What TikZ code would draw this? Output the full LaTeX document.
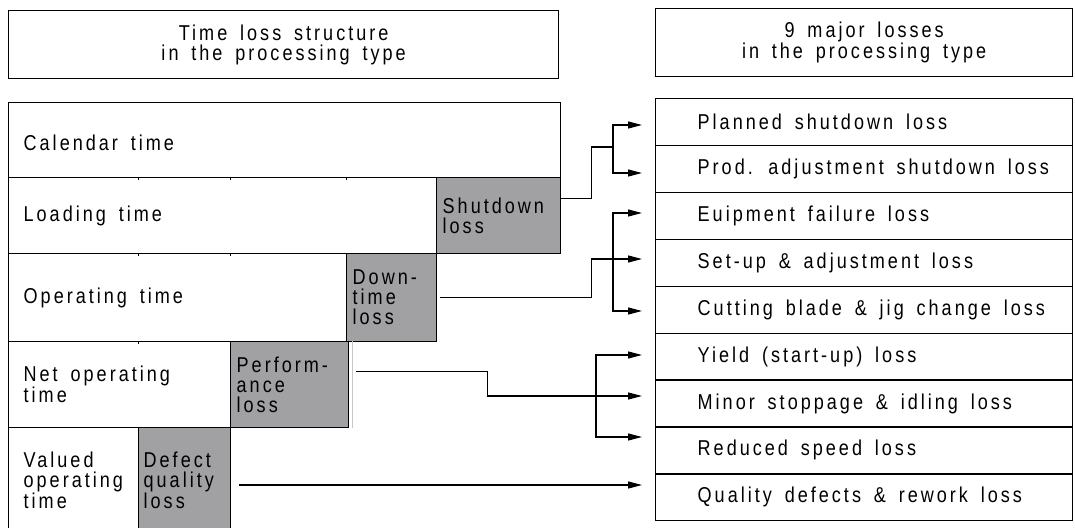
\documentclass[tikz,border=0pt]{standalone}
\usepackage{fontspec}
\setmainfont{Liberation Sans}[FakeStretch=0.84,LetterSpace=14,WordSpace=1.6]
\usetikzlibrary{arrows.meta}
\definecolor{lossgray}{RGB}{161,161,164}
\begin{document}
\begin{tikzpicture}[x=1pt,y=-1pt,line width=1.3pt,
  txt/.style={font=\fontsize{21.5}{20}\selectfont},
  titlebox/.style={draw,anchor=north west,align=center,txt,inner sep=0pt},
  timebox/.style={draw,anchor=north west,inner sep=0pt},
  lossbox/.style={draw,fill=lossgray,anchor=north west,inner sep=0pt},
  listrow/.style={draw,anchor=north west,inner sep=0pt,minimum width=417pt,minimum height=46.9pt},
  lbl/.style={anchor=west,align=left,inner sep=0pt,txt},
  arr/.style={-{Triangle[length=14pt,width=7pt]}},
  arrboth/.style={{Triangle[length=14pt,width=7pt]}-{Triangle[length=14pt,width=7pt]}}]
\useasboundingbox (0,0) rectangle (1075,527);
% titles
\node[titlebox,minimum width=550pt,minimum height=68pt] (t1) at (8,10) {Time loss structure\\in the processing type};
\node[titlebox,minimum width=417pt,minimum height=68pt] (t2) at (655,8) {9 major losses\\in the processing type};
% left time structure
\node[timebox,minimum width=552pt,minimum height=75pt] (cal) at (8,102) {};
\node[timebox,minimum width=428pt,minimum height=76pt] (load) at (8,177) {};
\node[lossbox,minimum width=124pt,minimum height=76pt] (shut) at (436,177) {};
\node[timebox,minimum width=338pt,minimum height=88pt] (oper) at (8,253) {};
\node[lossbox,minimum width=90pt,minimum height=88pt] (down) at (346,253) {};
\node[timebox,minimum width=222pt,minimum height=86pt] (net) at (8,341) {};
\node[lossbox,minimum width=118pt,minimum height=86pt] (perf) at (230,341) {};
\node[timebox,minimum width=130pt,minimum height=110pt] (val) at (8,427) {};
\node[lossbox,minimum width=92pt,minimum height=110pt] (def) at (138,427) {};
\draw[gray!45,line width=1pt] ([xshift=3pt]perf.north east) -- ([xshift=3pt]perf.south east);
% small grid ticks
\foreach \tx in {138,230,346} \draw[line width=1pt] (\tx,177) -- ++(0,-2.5pt);
\foreach \tx in {138,230} \draw[line width=1pt] (\tx,253) -- ++(0,-2.5pt);
\foreach \tx in {138} \draw[line width=1pt] (\tx,341) -- ++(0,-2.5pt);
% labels
\node[lbl] at ([xshift=15pt,yshift=-3pt]cal.west) {Calendar time};
\node[lbl] at ([xshift=15pt]load.west) {Loading time};
\node[lbl] at ([xshift=15pt]oper.west) {Operating time};
\node[lbl] at ([xshift=15pt]net.west) {Net operating\\time};
\node[lbl] at ([xshift=15pt,yshift=2.5pt]val.west) {Valued\\operating\\time};
\node[lbl] at ([xshift=6pt]shut.west) {Shutdown\\loss};
\node[lbl] at ([xshift=6pt]down.west) {Down-\\time\\loss};
\node[lbl] at ([xshift=6pt]perf.west) {Perform-\\ance\\loss};
\node[lbl] at ([xshift=5pt,yshift=2.5pt]def.west) {Defect\\quality\\loss};
% right list
\foreach \i/\t in {1/Planned shutdown loss,2/Prod. adjustment shutdown loss,3/Euipment failure loss,4/Set-up \& adjustment loss,5/Cutting blade \& jig change loss,6/Yield (start-up) loss,7/Minor stoppage \& idling loss,8/Reduced speed loss,9/Quality defects \& rework loss}{
  \node[listrow] (r\i) at (655,{98+46.9*(\i-1)}) {};
  \node[lbl] at ([xshift=42pt]r\i.west) {\t};
}
% arrow tips
\coordinate (a1) at (642,125);
\coordinate (a2) at (642,173);
\coordinate (a3) at (642,213);
\coordinate (a4) at (642,259);
\coordinate (a5) at (642,311);
\coordinate (a6) at (642,355);
\coordinate (a7) at (642,396);
\coordinate (a8) at (642,437);
\coordinate (a9) at (642,485);
\coordinate (sdj) at (613,147);
\coordinate (eqj) at (613,259);
\coordinate (prj) at (596,396);
% connectors
\draw ([yshift=17pt]shut.east) -- ++(30pt,0) |- (sdj);
\draw[arrboth] (a1) -| (sdj) |- (a2);
\draw[arr] ([xshift=3pt]down.east) -- ++(151pt,0) |- (a4);
\draw[arrboth] (a3) -| (eqj) |- (a5);
\draw[arr] ([xshift=7pt,yshift=13pt]perf.east) -- ++(131pt,0) |- (a7);
\draw[arrboth] (a6) -| (prj) |- (a8);
\draw[arr] ([xshift=8pt]def.east |- a9) -- (a9);
\end{tikzpicture}
\end{document}
